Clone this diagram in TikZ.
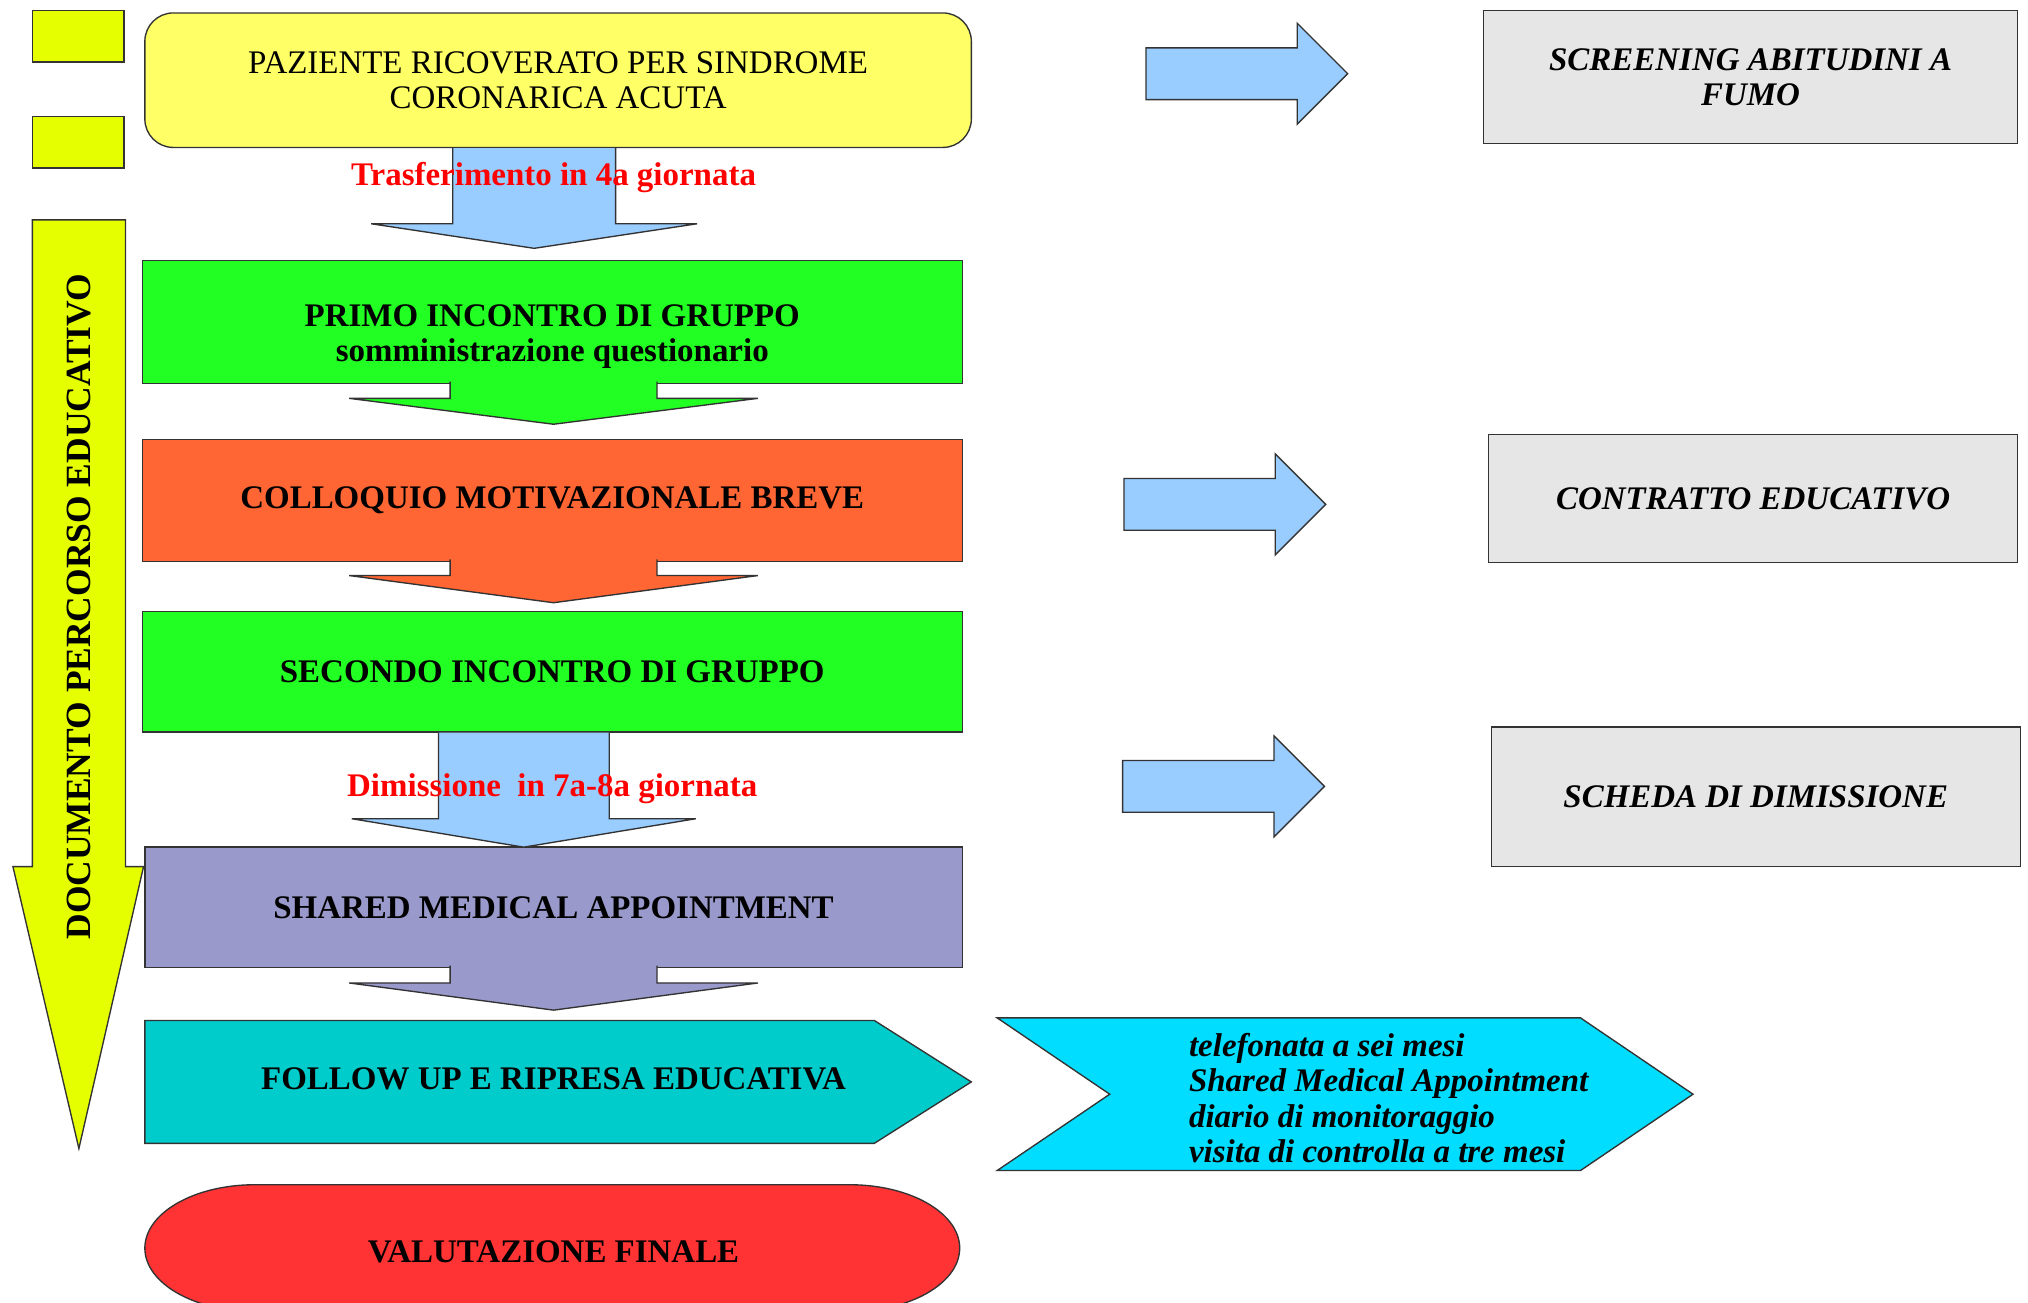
\documentclass[tikz,border=0pt]{standalone}
\usepackage{fontspec}
\setmainfont{Liberation Serif}
\usetikzlibrary{calc}

\newcommand*{\flowfont}{\fontsize{14.5}{15.5}\selectfont}

\begin{document}
\begin{tikzpicture}[x=0.2mm, y=-0.2mm,
    blockline/.style={draw=black!80, line width=0.6pt},
    box/.style={blockline, minimum width=126.8mm, minimum height=19mm, align=center, font=\flowfont\bfseries},
    sidebox/.style={blockline, fill=boxgray, align=center, font=\flowfont\bfseries\itshape},
    redlabel/.style={text=red, font=\flowfont\bfseries}]
        % Define colors
        \definecolor{boxyellow}{RGB}{255,255,102}
        \definecolor{limeyellow}{RGB}{230,255,0}
        \definecolor{arrowblue}{RGB}{153,204,255}
        \definecolor{boxgreen}{RGB}{34,255,34}
        \definecolor{boxorange}{RGB}{255,102,51}
        \definecolor{boxpurple}{RGB}{153,153,204}
        \definecolor{boxteal}{RGB}{0,204,204}
        \definecolor{boxcyan}{RGB}{0,221,255}
        \definecolor{boxred}{RGB}{255,51,51}
        \definecolor{boxgray}{RGB}{230,230,230}

        \useasboundingbox (0,0) rectangle (1568,1007);

        % Side markers
        \foreach \y in {28,110}
            \node[blockline, fill=limeyellow, minimum width=14.2mm, minimum height=8mm] (mark\y) at (60.5,\y) {};

        % Long arrow on the left
        \draw[blockline, fill=limeyellow] (25,170) -- (25,670) -- (10,670) -- (61,888) -- (111,670) -- (97,670) -- (97,170) -- cycle;
        \node[rotate=90, font=\fontsize{15.6}{16}\selectfont\bfseries] (doc) at (61,469) {DOCUMENTO PERCORSO EDUCATIVO};

        % Main column
        \node[box, rounded corners=4.4mm, fill=boxyellow, minimum width=127.8mm, minimum height=20.8mm, font=\flowfont] (paz) at (431.5,62) {PAZIENTE RICOVERATO PER SINDROME\\CORONARICA ACUTA};
        \node[box, fill=boxgreen] (pri) at (427,249) {};
        \node[align=center, font=\flowfont\bfseries] (pritxt) at (427,260) {PRIMO INCONTRO DI GRUPPO\\somministrazione questionario};
        \node[box, fill=boxorange, minimum height=18.8mm] (col) at (427,387) {COLLOQUIO MOTIVAZIONALE BREVE};
        \node[box, fill=boxgreen, minimum height=18.6mm] (sec) at (427,519.5) {SECONDO INCONTRO DI GRUPPO};
        \node[box, fill=boxpurple, minimum width=126.4mm, minimum height=18.6mm] (sha) at (428,701.5) {SHARED MEDICAL APPOINTMENT};

        \draw[blockline, fill=boxteal] (112,789) -- (676,789) -- (751,836.5) -- (676,884) -- (112,884) -- cycle;
        \node[font=\flowfont\bfseries] (fol) at (428,834) {FOLLOW UP E RIPRESA EDUCATIVA};

        \draw[blockline, fill=boxred] (197,916) -- (657,916) arc[start angle=90, end angle=-90, x radius=17mm, y radius=9.8mm] -- (197,1014) arc[start angle=270, end angle=90, x radius=17mm, y radius=9.8mm] -- cycle;
        \node[font=\flowfont\bfseries] (val) at (428,968) {VALUTAZIONE FINALE};

        % Follow up details
        \draw[blockline, fill=boxcyan] (771,787) -- (1222,787) -- (1309,846) -- (1222,905) -- (771,905) -- (858,846) -- cycle;
        \node[anchor=west, align=left, inner sep=0pt, font=\flowfont\bfseries\itshape] (tel) at (919,849) {telefonata a sei mesi\\Shared Medical Appointment\\diario di monitoraggio\\visita di controlla a tre mesi};

        % Block arrows between steps
        \coordinate (t1) at (413,192);
        \coordinate (t2) at (428,328);
        \coordinate (t3) at (428,466);
        \coordinate (t4) at (405,655);
        \coordinate (t5) at (428,781);
        \foreach \a/\t/\n/\s/\h/\o/\col in {paz/t1/19/63/126/0/arrowblue, pri/t2/20/80/158/2/boxgreen, col/t3/21/80/158/2/boxorange, sec/t4/22/66/133/0/arrowblue, sha/t5/21/80/158/2/boxpurple}
            \draw[blockline, fill=\col] ($(\a.south -| \t)+(-\s,-\o)$) -- ($(\t)+(-\s,-\n)$) -- ($(\t)+(-\h,-\n)$) -- (\t) -- ($(\t)+(\h,-\n)$) -- ($(\t)+(\s,-\n)$) -- ($(\a.south -| \t)+(\s,-\o)$);

        \node[redlabel] (lab1) at (428,137) {Trasferimento in 4a giornata};
        \node[redlabel] (lab2) at (427,610) {Dimissione~ in 7a-8a giornata};

        % Arrows to the right
        \foreach \x/\y in {886/57, 869/390, 868/608}
            \draw[blockline, fill=arrowblue] (\x,\y-20) -- (\x+117,\y-20) -- (\x+117,\y-39) -- (\x+156,\y) -- (\x+117,\y+39) -- (\x+117,\y+20) -- (\x,\y+20) -- cycle;

        \node[sidebox, minimum width=82.6mm, minimum height=20.6mm] (scr) at (1353.5,59.5) {SCREENING ABITUDINI A\\FUMO};
        \node[sidebox, minimum width=81.8mm, minimum height=19.8mm] (con) at (1355.5,385.5) {CONTRATTO EDUCATIVO};
        \node[sidebox, minimum width=81.8mm, minimum height=21.6mm] (sch) at (1357.5,616) {SCHEDA DI DIMISSIONE};

    \end{tikzpicture}
\end{document}
